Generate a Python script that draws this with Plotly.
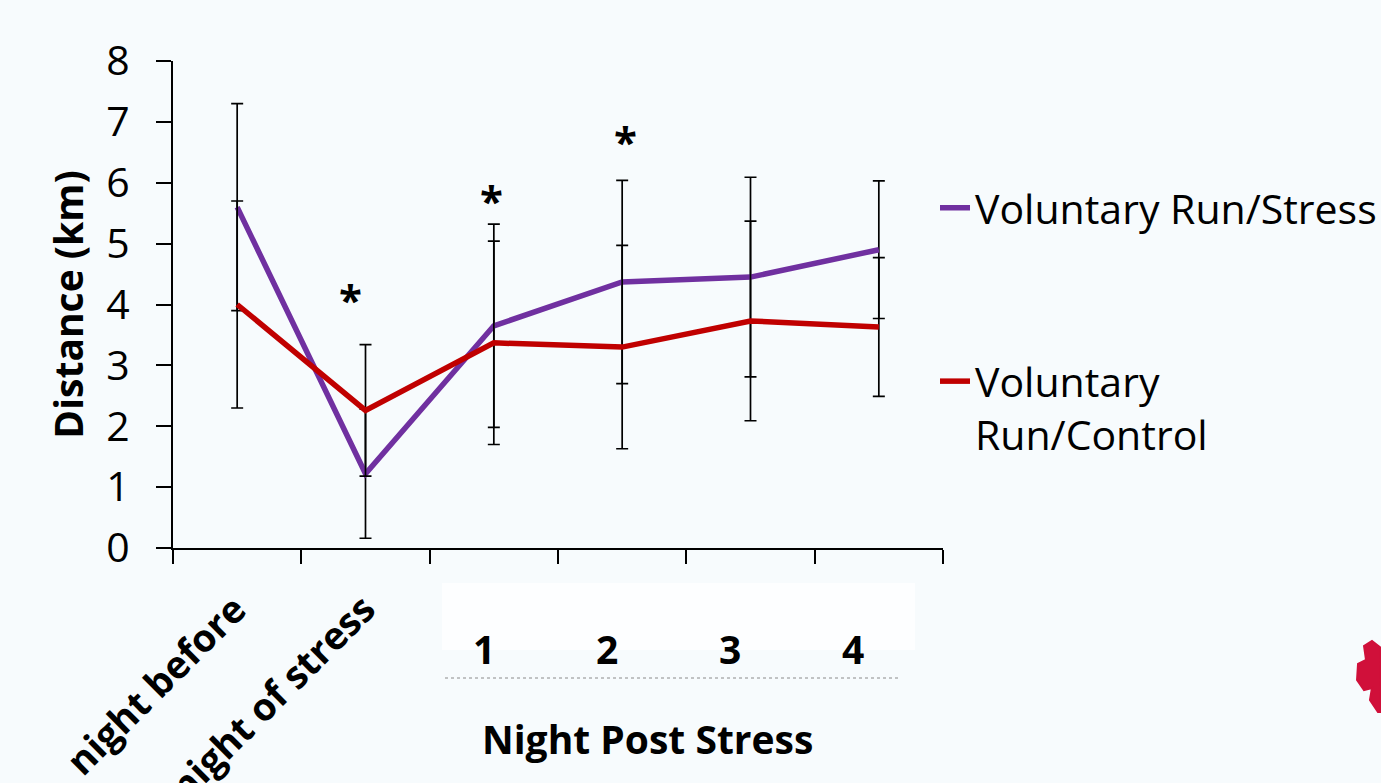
import plotly.graph_objects as go

# ---- data ----
categories = ["night before", "night of stress", "1", "2", "3", "4"]
stress_mean = [5.60, 1.22, 3.65, 4.37, 4.45, 4.90]
stress_sem = [1.70, 1.06, 1.67, 1.67, 1.64, 1.13]
control_mean = [4.00, 2.26, 3.37, 3.30, 3.73, 3.63]
control_sem = [1.70, 1.08, 1.67, 1.67, 1.64, 1.14]
sig_categories = ["night of stress", "1", "2"]
sig_heights = [4.15, 5.77, 6.75]
y_ticks = [0, 1, 2, 3, 4, 5, 6, 7, 8]
series_names = ["Voluntary Run/Stress", "Voluntary<br>Run/Control"]
group_title = "Night Post Stress"
y_title = "Distance (km)"

# ---- layout constants (pixels) ----
W, H = 1381, 783
L, R, T, B = 173, 438, 61, 235
PW, PH = W - L - R, H - T - B
BG = "#F7FBFD"
FONT = "Open Sans"


def px(xp):
    return (xp - L) / PW


def py(yp):
    return (H - B - yp) / PH


fig = go.Figure()
fig.add_trace(go.Scatter(
    x=categories, y=stress_mean, name=series_names[0], mode="lines",
    line=dict(color="#7030A0", width=5.5),
    error_y=dict(type="data", array=stress_sem, visible=True, color="black", thickness=1.7, width=6),
    legend="legend",
))
fig.add_trace(go.Scatter(
    x=categories, y=control_mean, name=series_names[1], mode="lines",
    line=dict(color="#C00000", width=5.5),
    error_y=dict(type="data", array=control_sem, visible=True, color="black", thickness=1.7, width=6),
    legend="legend2",
))

annotations = []
# significance asterisks
sig_shift = [-15, -2, 3]
for c, h, s in zip(sig_categories, sig_heights, sig_shift):
    annotations.append(dict(x=categories.index(c), y=h, xref="x", yref="y", text="<b>*</b>",
                            showarrow=False, xanchor="center", yanchor="middle",
                            xshift=s, yshift=-3, font=dict(size=42, color="black", family=FONT)))
# rotated category labels
for i, c in enumerate(categories[:2]):
    annotations.append(dict(x=i, y=py(580), xref="x", yref="paper", text="<b>%s</b>" % c,
                            textangle=-45, xanchor="right", yanchor="top", showarrow=False,
                            xshift=22, font=dict(size=38, color="black", family=FONT)))
# post-stress night labels
for k, c in enumerate(categories[2:]):
    annotations.append(dict(x=k + 2, y=py(648), xref="x", yref="paper", text="<b>%s</b>" % c,
                            showarrow=False, xshift=-(10 + 5.3 * k), xanchor="center", yanchor="middle",
                            font=dict(size=39, color="black", family=FONT)))
annotations.append(dict(x=px(647), y=py(738), xref="paper", yref="paper", text="<b>%s</b>" % group_title,
                        showarrow=False, xanchor="center", yanchor="middle",
                        font=dict(size=39, color="black", family=FONT)))

shapes = [
    dict(type="rect", xref="paper", yref="paper", x0=px(442), x1=px(915), y0=py(650), y1=py(583),
         fillcolor="#FDFEFF", line=dict(width=0), layer="below"),
    dict(type="line", xref="paper", yref="paper", x0=px(445), x1=px(900), y0=py(678), y1=py(678),
         line=dict(color="#8a8a8a", width=1, dash="dot")),
]
# small logo fragment at bottom right
leaf = [(1381, 648), (1372, 641), (1364, 646), (1366, 660), (1358, 664), (1357, 680), (1364, 690),
        (1372, 688), (1370, 700), (1378, 712), (1381, 712)]
path = "M " + " L ".join("%.4f,%.4f" % (px(a), py(b)) for a, b in leaf) + " Z"
shapes.append(dict(type="path", xref="paper", yref="paper", path=path, fillcolor="#D0103A",
                   line=dict(color="#D0103A", width=2)))

fig.update_layout(
    width=W, height=H,
    margin=dict(l=L, r=R, t=T, b=B, autoexpand=False),
    paper_bgcolor=BG, plot_bgcolor=BG,
    font=dict(family=FONT, color="black"),
    showlegend=True,
    legend=dict(x=px(935), y=py(208), xanchor="left", yanchor="middle", bgcolor="rgba(0,0,0,0)",
                font=dict(size=41, family=FONT, color="black"), valign="top"),
    legend2=dict(x=px(935), y=py(348), xanchor="left", yanchor="top", bgcolor="rgba(0,0,0,0)",
                 font=dict(size=41, family=FONT, color="black"), valign="top"),
    xaxis=dict(type="category", range=[-0.5, 5.5], showticklabels=False, showgrid=False,
               tickson="boundaries", ticks="outside", ticklen=14, tickwidth=2, tickcolor="black",
               showline=True, linecolor="black", linewidth=2, zeroline=False, fixedrange=True),
    yaxis=dict(range=[0, 8], tickvals=y_ticks, showgrid=False, zeroline=False,
               ticks="outside", ticklen=15, tickwidth=2, tickcolor="black",
               showline=True, linecolor="black", linewidth=2,
               tickfont=dict(size=41, family=FONT, color="black"), ticklabelstandoff=18,
               title=dict(text="<b>%s</b>" % y_title, font=dict(size=39, family=FONT, color="black"),
                          standoff=11)),
    annotations=annotations,
    shapes=shapes,
)

fig.write_html("out.html")
